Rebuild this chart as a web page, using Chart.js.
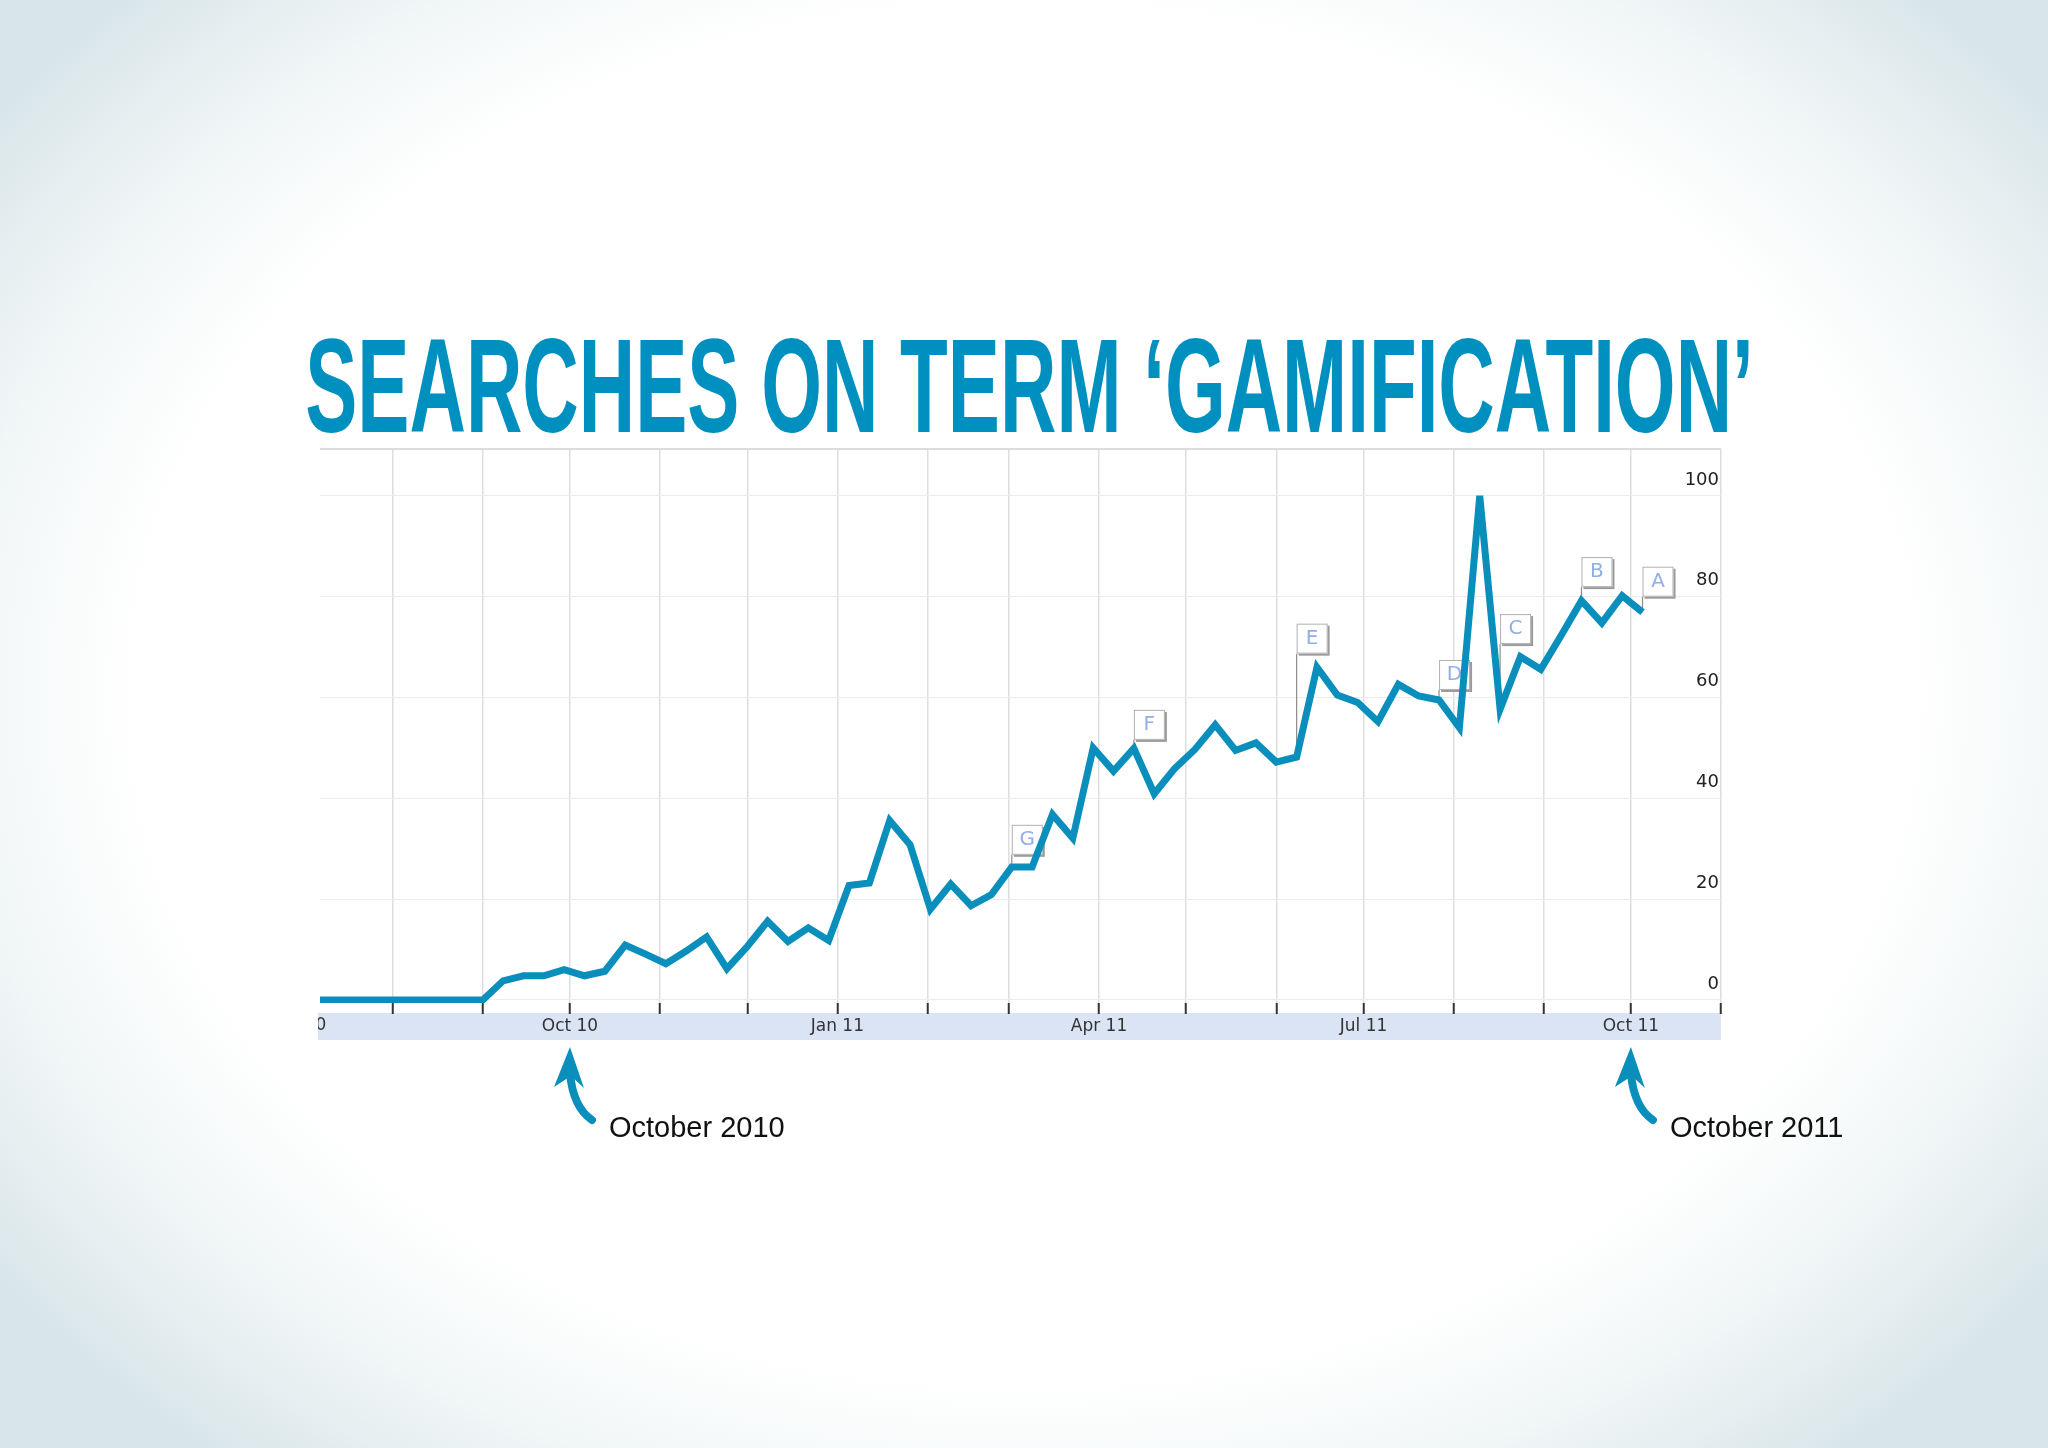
<!DOCTYPE html>
<html lang="en">
<head>
<meta charset="UTF-8">
<title>Searches on term 'gamification'</title>
<script src="https://cdn.jsdelivr.net/npm/chart.js"></script>
<style>
  html, body { margin: 0; padding: 0; }
  body {
    width: 2048px; height: 1448px; overflow: hidden;
    background: radial-gradient(ellipse 62% 68% at 50% 48%, #ffffff 70%, #f1f6f7 84%, #d9e6e9 100%);
  }
  canvas { display: block; }
</style>
</head>
<body>
<canvas id="grafico" width="2048" height="1448"></canvas>
<script>
// x values are days counted from 1 Jul 2010
const weekDays = [6, 13, 20, 27, 34, 41, 48, 55, 62, 69, 76, 83, 90, 97, 104, 111, 118, 125, 132, 139,
  146, 153, 160, 167, 174, 181, 188, 195, 202, 209, 216, 223, 230, 237, 244, 251, 258, 265, 272, 279,
  286, 293, 300, 307, 314, 321, 328, 335, 342, 349, 356, 363, 370, 377, 384, 391, 398, 405, 412, 419,
  426, 433, 440, 447, 454, 461];
const searchIndex = [0, 0, 0, 0, 0, 0, 0, 0, 0,
  3.8, 4.8, 4.8, 6.0, 4.8, 5.7, 10.9, 9.1, 7.2, 9.7, 12.5, 6.2,
  10.6, 15.6, 11.6, 14.3, 11.8, 22.7, 23.2, 35.6, 30.8, 18.0, 23.0, 18.7,
  20.9, 26.4, 26.4, 36.8, 32.1, 50.0, 45.4, 49.9, 40.9, 45.9, 49.7, 54.6,
  49.5, 51.0, 47.2, 48.2, 66.0, 60.5, 59.0, 55.2, 62.6, 60.3, 59.5, 54.0,
  100, 57.7, 68.1, 65.6, 72.3, 79.2, 74.8, 80.2, 76.9];

// month starts (Aug 10 .. Nov 11) and their labels
const monthDays = [31, 62, 92, 123, 153, 184, 215, 243, 274, 304, 335, 365, 396, 427, 457, 488];
const monthLabels = ['', '', 'Oct 10', '', '', 'Jan 11', '', '', 'Apr 11', '', '', 'Jul 11', '', '', 'Oct 11', ''];
const hiddenLabelDay = 0;          // Jul 10, only its tail shows at the left edge
const hiddenLabel = 'Jul 10';
const yTicks = [0, 20, 40, 60, 80, 100];

// news flags: letter, week index, level of the box
const flagLetters = ['G', 'F', 'E', 'D', 'C', 'B', 'A'];
const flagWeek = [34, 40, 48, 55, 58, 62, 65];
const flagLevel = [28.8, 51.6, 68.7, 61.5, 70.6, 81.9, 80.0];

// arrows under the axis
const noteDays = [92, 457];
const noteTexts = ['October 2010', 'October 2011'];

const titulo = 'SEARCHES ON TERM \u2018GAMIFICATION\u2019';
const azul = '#0a8fbc';

Chart.defaults.font.family = '"DejaVu Sans", Verdana, sans-serif';

const fundo = {
  id: 'fundo',
  beforeDraw(chart) {
    const { ctx, chartArea: a } = chart;
    ctx.save();
    ctx.fillStyle = '#ffffff';
    ctx.fillRect(a.left, a.top, a.right - a.left, a.bottom - a.top);
    // faixa das datas
    ctx.fillStyle = '#dae4f4';
    ctx.fillRect(a.left - 2, a.bottom + 10, a.right - a.left + 2, 27);
    // borda de cima
    ctx.strokeStyle = '#cfcfcf';
    ctx.lineWidth = 1.5;
    ctx.beginPath();
    ctx.moveTo(a.left, a.top);
    ctx.lineTo(a.right, a.top);
    ctx.stroke();

    // titulo condensado
    ctx.font = 'bold 134px "Liberation Sans", Arial, sans-serif';
    ctx.fillStyle = '#0090bf';
    ctx.textBaseline = 'alphabetic';
    const m = ctx.measureText(titulo);
    const w = m.actualBoundingBoxLeft + m.actualBoundingBoxRight;
    const esc = 1442 / w;
    ctx.translate(307, 432);
    ctx.scale(esc, 1);
    ctx.fillText(titulo, m.actualBoundingBoxLeft, 0);
    ctx.restore();
  }
};

const bandeiras = {
  id: 'bandeiras',
  beforeDatasetsDraw(chart) {
    const { ctx, scales: { x, y } } = chart;
    ctx.save();
    flagLetters.forEach((letra, i) => {
      const k = flagWeek[i];
      const px = x.getPixelForValue(weekDays[k]);
      const py = y.getPixelForValue(searchIndex[k]);
      const base = y.getPixelForValue(flagLevel[i]);
      ctx.strokeStyle = '#8c8c8c';
      ctx.lineWidth = 1.2;
      ctx.beginPath();
      ctx.moveTo(px, py);
      ctx.lineTo(px, base);
      ctx.stroke();
      ctx.fillStyle = '#9a9a9a';
      ctx.fillRect(px + 2, base - 28, 31, 30);
      ctx.fillStyle = '#ffffff';
      ctx.fillRect(px, base - 30, 31, 30);
      ctx.strokeStyle = '#b0b0b0';
      ctx.lineWidth = 1;
      ctx.strokeRect(px + 0.5, base - 29.5, 30, 29);
      ctx.fillStyle = '#92afe6';
      ctx.font = '20px "DejaVu Sans", sans-serif';
      ctx.textAlign = 'center';
      ctx.textBaseline = 'middle';
      ctx.fillText(letra, px + 15.5, base - 15);
    });
    ctx.restore();
  }
};

const notas = {
  id: 'notas',
  afterDraw(chart) {
    const { ctx, chartArea: a, scales: { x } } = chart;
    ctx.save();
    // cauda do rotulo cortado na esquerda
    ctx.beginPath();
    ctx.rect(a.left - 2, a.bottom + 10, a.right - a.left, 27);
    ctx.clip();
    ctx.fillStyle = '#333333';
    ctx.font = '17px "DejaVu Sans", sans-serif';
    ctx.textAlign = 'center';
    ctx.textBaseline = 'middle';
    ctx.fillText(hiddenLabel, x.getPixelForValue(hiddenLabelDay), a.bottom + 23);
    ctx.restore();

    ctx.save();
    noteDays.forEach((d, i) => {
      const px = x.getPixelForValue(d);
      const ty = a.bottom + 44;
      ctx.fillStyle = azul;
      ctx.beginPath();
      ctx.moveTo(px, ty);
      ctx.lineTo(px + 14, ty + 41);
      ctx.lineTo(px + 1, ty + 29);
      ctx.lineTo(px - 16, ty + 40);
      ctx.closePath();
      ctx.fill();
      ctx.strokeStyle = azul;
      ctx.lineWidth = 8;
      ctx.lineCap = 'round';
      ctx.beginPath();
      ctx.moveTo(px, ty + 26);
      ctx.quadraticCurveTo(px + 3, ty + 60, px + 22, ty + 73);
      ctx.stroke();
      ctx.fillStyle = '#111111';
      ctx.font = '29px "Liberation Sans", Arial, sans-serif';
      ctx.textAlign = 'left';
      ctx.textBaseline = 'alphabetic';
      ctx.fillText(noteTexts[i], px + 39, ty + 90);
    });
    ctx.restore();
  }
};

new Chart(document.getElementById('grafico'), {
  type: 'line',
  data: {
    datasets: [{
      data: weekDays.map((d, i) => ({ x: d, y: searchIndex[i] })),
      borderColor: azul,
      borderWidth: 7,
      borderJoinStyle: 'miter',
      pointRadius: 0,
      tension: 0,
      fill: false
    }]
  },
  options: {
    responsive: false,
    animation: false,
    layout: { padding: { left: 320, top: 449, right: 327, bottom: 405 } },
    plugins: { legend: { display: false }, tooltip: { enabled: false }, title: { display: false } },
    scales: {
      x: {
        type: 'linear',
        min: 6,
        max: 488,
        afterBuildTicks: s => { s.ticks = monthDays.map(v => ({ value: v })); },
        afterFit: s => { s.height = 40; },
        ticks: {
          autoSkip: false,
          maxRotation: 0,
          padding: 2,
          color: '#333333',
          font: { size: 17 },
          callback: v => monthLabels[monthDays.indexOf(v)]
        },
        grid: { color: '#dedede', lineWidth: 1.5, tickLength: 11, tickColor: '#333333', tickWidth: 2 },
        border: { display: false }
      },
      y: {
        type: 'linear',
        position: 'right',
        min: -0.6,
        max: 109.3,
        afterBuildTicks: s => { s.ticks = yTicks.map(v => ({ value: v })); },
        afterFit: s => { s.width = 0; },
        ticks: {
          mirror: true,
          padding: -2,
          labelOffset: -16,
          color: '#222222',
          font: { size: 18 }
        },
        grid: { color: '#ececec', lineWidth: 1, drawTicks: false },
        border: { display: false }
      }
    }
  },
  plugins: [fundo, bandeiras, notas]
});
</script>
</body>
</html>
